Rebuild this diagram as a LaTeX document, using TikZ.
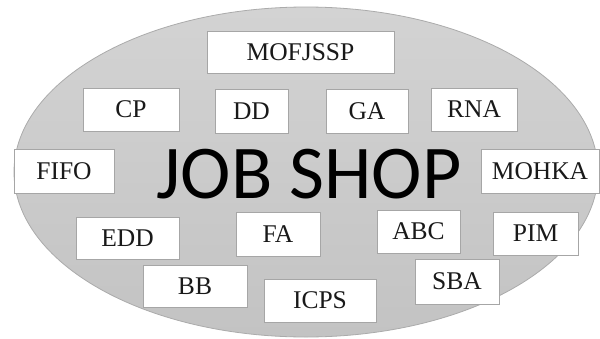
\documentclass[tikz,border=0pt]{standalone}
\usepackage{fontspec}
\setmainfont{Liberation Serif}
\newfontfamily\jobfont{Carlito}
\definecolor{elltop}{HTML}{D3D3D3}
\definecolor{ellbot}{HTML}{C3C3C3}
\definecolor{ellline}{HTML}{ABABAB}
\definecolor{boxline}{HTML}{A6A6A6}
\tikzset{
  bx/.style={draw=boxline, line width=0.9pt, fill=white, inner sep=0pt,
    font=\fontsize{25.5}{28}\selectfont, text=black!90},
}
\newcommand{\bxat}[6]{% name, x1, y1, x2, y2, text
  \node[bx, minimum width={#4-#2}, minimum height={#5-#3}] (#1) at ({(#2+#4)/2},{(#3+#5)/2}) {#6};}
\begin{document}
\begin{tikzpicture}[x=1pt,y=-1pt]
\useasboundingbox (0,0) rectangle (600,338);
\path[draw=ellline, line width=0.8pt, top color=elltop, bottom color=ellbot]
  (306,172) ellipse [x radius=292, y radius=165];
\node[font=\jobfont\fontsize{76}{80}\selectfont, inner sep=0pt, anchor=base] (job) at (309,198) {JOB SHOP};
\bxat{mof}{207}{31}{394}{73}{MOFJSSP}
\bxat{cp}{83}{88}{179}{131}{CP}
\bxat{dd}{215}{89}{288}{133}{DD}
\bxat{ga}{326}{89}{408}{133}{GA}
\bxat{rna}{431}{88}{517}{131}{RNA}
\bxat{fifo}{14}{149}{114}{193}{FIFO}
\bxat{mohka}{481}{149}{599}{193}{MOHKA}
\bxat{edd}{76}{217}{179}{259}{EDD}
\bxat{fa}{236}{212}{320}{256}{FA}
\bxat{abc}{377}{210}{460}{253}{ABC}
\bxat{pim}{493}{212}{578}{255}{PIM}
\bxat{bb}{143}{265}{247}{307}{BB}
\bxat{icps}{264}{279}{376}{322}{ICPS}
\bxat{sba}{415}{259}{499}{304}{SBA}
\end{tikzpicture}
\end{document}
